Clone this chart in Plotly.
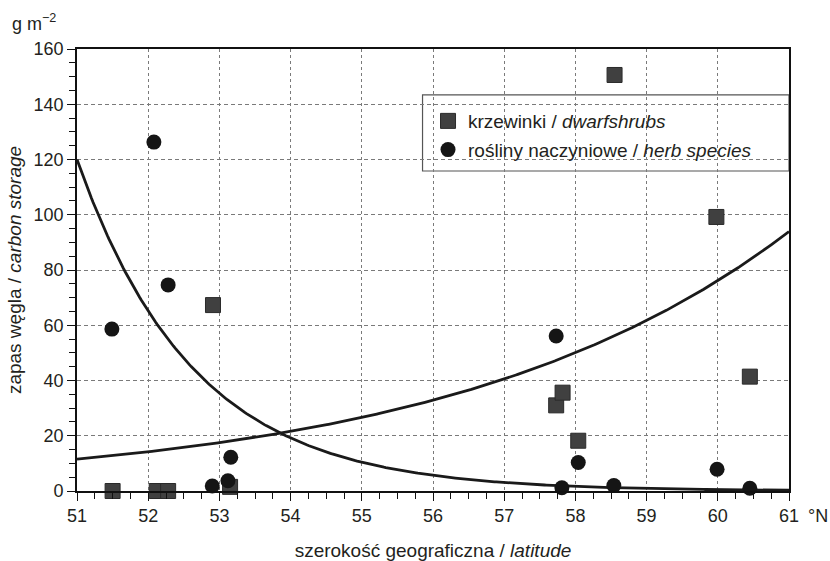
import numpy as np
import plotly.graph_objects as go

# Dwarf shrubs (krzewinki): latitude and carbon storage, g m^-2
shrub_lat = [51.5, 52.12, 52.28, 52.91, 53.15, 57.73, 57.82, 58.04, 58.55, 59.98, 60.45]
shrub_c = [0.0, 0.0, 0.0, 67.3, 1.5, 31.0, 35.6, 18.2, 150.6, 99.2, 41.4]

# Herb species (rośliny naczyniowe)
herb_lat = [51.49, 52.08, 52.28, 52.9, 53.12, 53.16, 57.73, 57.81, 58.04, 58.54, 59.99, 60.45]
herb_c = [58.6, 126.3, 74.6, 1.8, 3.7, 12.2, 56.1, 1.2, 10.3, 2.0, 7.9, 1.0]

# Exponential trend lines y = a * exp(b * (lat - 51))
herb_a, herb_b = 120.0, -0.611
shrub_a, shrub_b = 11.5, 0.210

x_ticks = [51, 52, 53, 54, 55, 56, 57, 58, 59, 60, 61]
y_ticks = [0, 20, 40, 60, 80, 100, 120, 140, 160]

lat_grid = np.linspace(51, 61, 400)
herb_trend = herb_a * np.exp(herb_b * (lat_grid - 51))
shrub_trend = shrub_a * np.exp(shrub_b * (lat_grid - 51))

FONT = "Liberation Sans, Arial, sans-serif"
INK = "#231f20"

fig = go.Figure()

fig.add_trace(go.Scatter(
    x=lat_grid, y=herb_trend, mode="lines",
    line=dict(color="#1a1a1a", width=2.8), showlegend=False, hoverinfo="skip"))
fig.add_trace(go.Scatter(
    x=lat_grid, y=shrub_trend, mode="lines",
    line=dict(color="#1a1a1a", width=2.8), showlegend=False, hoverinfo="skip"))

fig.add_trace(go.Scatter(
    x=shrub_lat, y=shrub_c, mode="markers", name="krzewinki / <i>dwarfshrubs</i>",
    legendgroup="a", cliponaxis=False,
    marker=dict(symbol="square", size=15, color="#404040",
                line=dict(color="#2a2a2a", width=1))))
fig.add_trace(go.Scatter(
    x=herb_lat, y=herb_c, mode="markers", name="rośliny naczyniowe / <i>herb species</i>",
    legendgroup="b", cliponaxis=False,
    marker=dict(symbol="circle", size=15, color="#151515",
                line=dict(color="#151515", width=0))))

# legend frame spanning to the right border
fig.add_shape(type="rect", xref="paper", yref="paper",
              x0=0.4853, x1=1.0, y0=0.724, y1=0.896,
              line=dict(color="#555555", width=1.2), fillcolor="white", layer="below")

fig.add_annotation(text="g m<sup>−2</sup>", xref="paper", yref="paper",
                   x=-0.094, y=1.03, xanchor="left", yanchor="bottom",
                   showarrow=False, font=dict(family=FONT, size=18, color=INK))
fig.add_annotation(text="°N", xref="x", yref="y", x=61, y=0,
                   xanchor="left", yanchor="middle", xshift=17, yshift=-25,
                   showarrow=False, font=dict(family=FONT, size=18, color=INK))

axis_common = dict(
    showline=True, linecolor="#111111", linewidth=1.6, mirror=True,
    ticks="outside", ticklen=8, tickwidth=1.2, tickcolor="#111111",
    showgrid=True, gridcolor="#7a7a7a", gridwidth=1, automargin=False,
    zeroline=False, tickfont=dict(family=FONT, size=18, color=INK),
)

fig.update_xaxes(
    **axis_common, range=[51, 61], tickvals=x_ticks, griddash="dot",
    minor=dict(dtick=0.25, ticks="outside", ticklen=6, tickwidth=1.2,
               tickcolor="#111111", showgrid=False),
    title=dict(text="szerokość geograficzna / <i>latitude</i>", standoff=22,
               font=dict(family=FONT, size=19, color=INK)),
)
fig.update_yaxes(
    **axis_common, range=[0, 160], tickvals=y_ticks, griddash="4px,3px",
    minor=dict(dtick=5, ticks="outside", ticklen=6, tickwidth=1.2,
               tickcolor="#111111", showgrid=False),
    title=dict(text="zapas węgla / <i>carbon storage</i>", standoff=7,
               font=dict(family=FONT, size=19, color=INK)),
)

fig.update_layout(
    width=830, height=561,
    margin=dict(l=77, r=41, t=49, b=70),
    plot_bgcolor="white", paper_bgcolor="white",
    font=dict(family=FONT, color=INK),
    legend=dict(x=0.493, y=0.88, xanchor="left", yanchor="top",
                bgcolor="rgba(0,0,0,0)", borderwidth=0,
                font=dict(family=FONT, size=19, color=INK),
                tracegroupgap=1, traceorder="grouped"),
)

fig.write_html("out.html")
